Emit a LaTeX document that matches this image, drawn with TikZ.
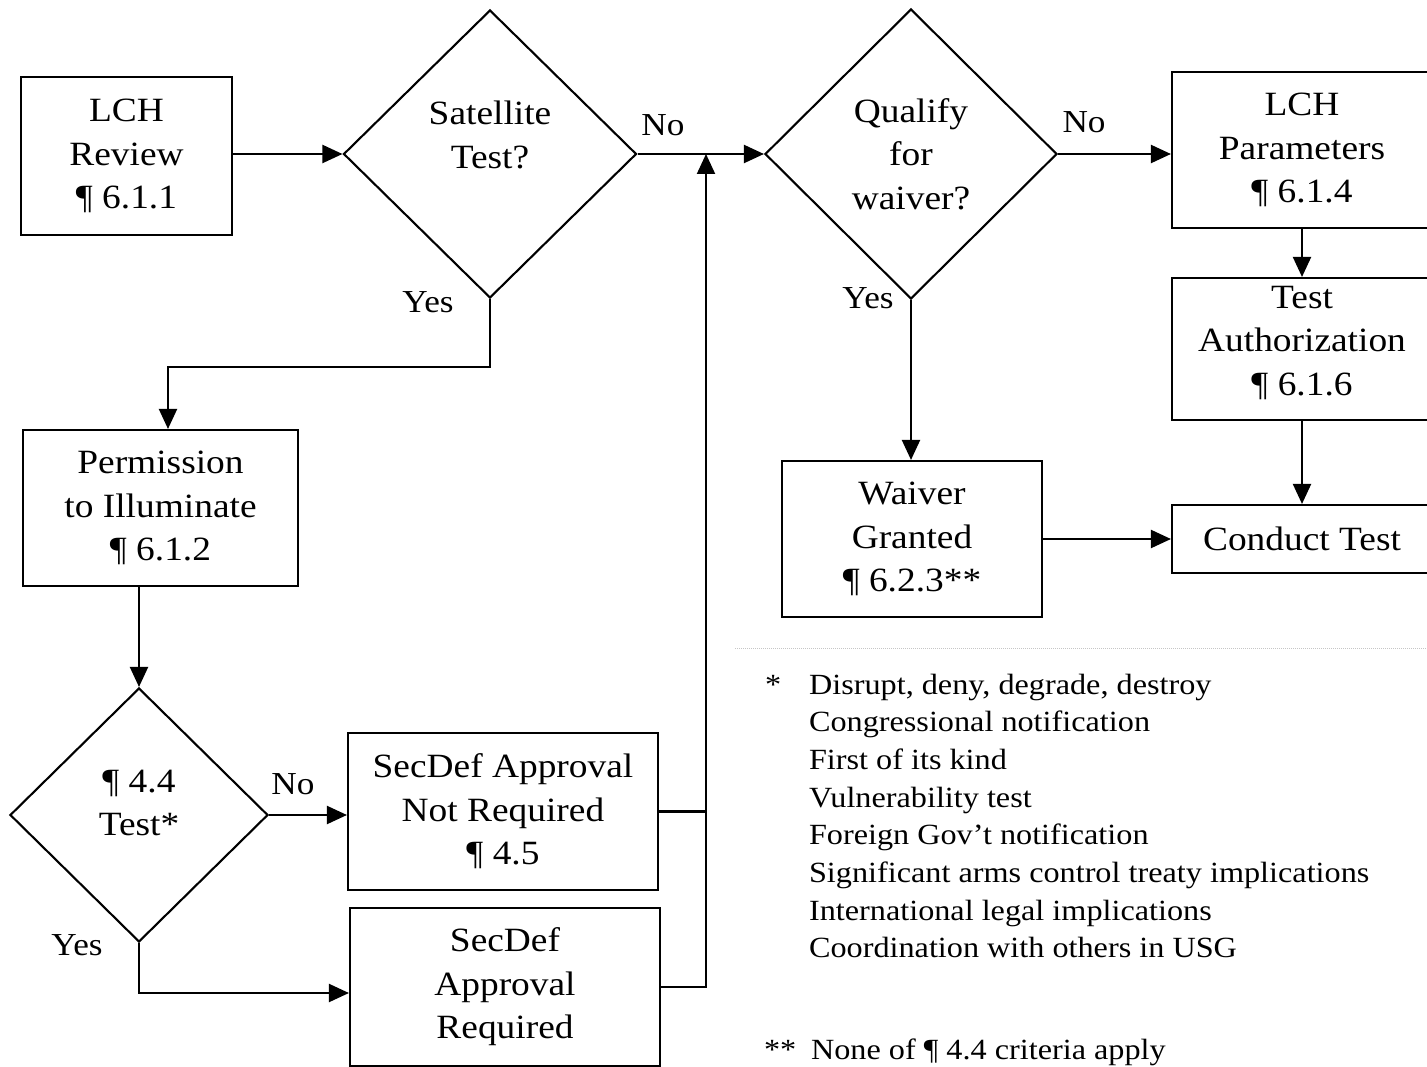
\documentclass[tikz,border=0pt]{standalone}
\usepackage{fontspec}
\setmainfont{Liberation Serif}[FakeStretch=1.1]
\usetikzlibrary{arrows.meta,shapes.geometric,calc}
\begin{document}
\begin{tikzpicture}[x=1pt,y=-1pt,
  line width=2.1pt,
  box/.style={draw, rectangle, line width=2.1pt, align=center, inner sep=0pt, font=\fontsize{34}{43.5}\selectfont},
  dia/.style={draw, diamond, inner sep=0pt, line width=2.1pt},
  txt/.style={align=center, inner sep=0pt, font=\fontsize{34}{43.5}\selectfont},
  lbl/.style={font=\fontsize{32}{38}\selectfont, inner sep=0pt},
  fn/.style={font=\fontsize{29.3}{37.7}\selectfont, anchor=base west, inner sep=0pt},
  arr/.style={-{Triangle[length=20pt,width=18pt]}},
]
\clip (0,0) rectangle (1427,1067);
\fill[white] (0,0) rectangle (1427,1067);

% boxes
\node[box, minimum width=211pt, minimum height=158pt] (rev) at (126.5,156) {LCH\\Review\\¶ 6.1.1};
\node[box, minimum width=260pt, minimum height=156pt] (par) at (1302,150) {LCH\\Parameters\\¶ 6.1.4};
\node[box, minimum width=260pt, minimum height=142pt] (auth) at (1302,349) {};
\node[txt] (autht) at (1302,343) {Test\\Authorization\\¶ 6.1.6};
\node[box, minimum width=260pt, minimum height=68pt] (cond) at (1302,539) {Conduct Test};
\node[box, minimum width=260pt, minimum height=156pt] (waiv) at (912,539) {Waiver\\Granted\\¶ 6.2.3**};
\node[box, minimum width=275pt, minimum height=156pt] (perm) at (160.5,508) {Permission\\to Illuminate\\¶ 6.1.2};
\node[box, minimum width=310pt, minimum height=157pt] (nreq) at (503,811.5) {SecDef Approval\\Not Required\\¶ 4.5};
\node[box, minimum width=310pt, minimum height=158pt] (req) at (505,987) {SecDef\\Approval\\Required};

% diamonds
\node[dia, minimum width=293pt, minimum height=288pt] (sat) at (490,154) {};
\node[txt] (satt) at (490,135) {Satellite\\Test?};
\node[dia, minimum width=292pt, minimum height=290pt] (qual) at (911,154) {};
\node[txt] (qualt) at (911,154) {Qualify\\for\\waiver?};
\node[dia, minimum width=258pt, minimum height=254pt] (t44) at (139,815) {};
\node[txt] (t44t) at (139,803) {¶ 4.4\\Test*};

% junction
\coordinate (j) at (706,154);

% connectors
\draw[arr] (sat.west -| rev.east) -- (sat.west);
\draw[arr] (sat.east) -- (qual.west);
\draw[arr] (qual.east) -- (qual.east -| par.west);
\draw[arr] (par.south) -- (par.south |- auth.north);
\draw[arr] (auth.south) -- (auth.south |- cond.north);
\draw[arr] (qual.south) -- (qual.south |- waiv.north);
\draw[arr] (waiv.east) -- (waiv.east -| cond.west);
\coordinate (c1) at (168,367);
\draw[arr] (sat.south) |- (c1) -- (c1 |- perm.north);
\draw[arr] (t44.north |- perm.south) -- (t44.north);
\draw[arr] (t44.east) -- (t44.east -| nreq.west);
\draw[arr] (t44.south) |- ($(req.west)+(0,6)$);
\draw (nreq.east) -- (nreq.east -| j);
\draw[arr] (req.east) -| (j);

% labels
\node[lbl] (no1) at (663,125) {No};
\node[lbl] (yes1) at (428,302) {Yes};
\node[lbl] (no2) at (1084,122) {No};
\node[lbl] (yes2) at (868,298) {Yes};
\node[lbl] (no3) at (293,784) {No};
\node[lbl] (yes3) at (77,945) {Yes};

% faint scan line
\draw[gray!45, line width=1pt, densely dotted] (735,648) -- (1427,648);

% footnotes
\node[fn] (ast) at (764,694) {*};
\node[fn] (fn1) at (808,694) {Disrupt, deny, degrade, destroy};
\node[fn] (fn2) at (808,731.7) {Congressional notification};
\node[fn] (fn3) at (808,769.4) {First of its kind};
\node[fn] (fn4) at (808,807.1) {Vulnerability test};
\node[fn] (fn5) at (808,844.8) {Foreign Gov’t notification};
\node[fn] (fn6) at (808,882.5) {Significant arms control treaty implications};
\node[fn] (fn7) at (808,920.2) {International legal implications};
\node[fn] (fn8) at (808,957.9) {Coordination with others in USG};
\node[fn] (ast2) at (763,1059) {**};
\node[fn] (fn9) at (810,1059) {None of ¶ 4.4 criteria apply};
\end{tikzpicture}
\end{document}
